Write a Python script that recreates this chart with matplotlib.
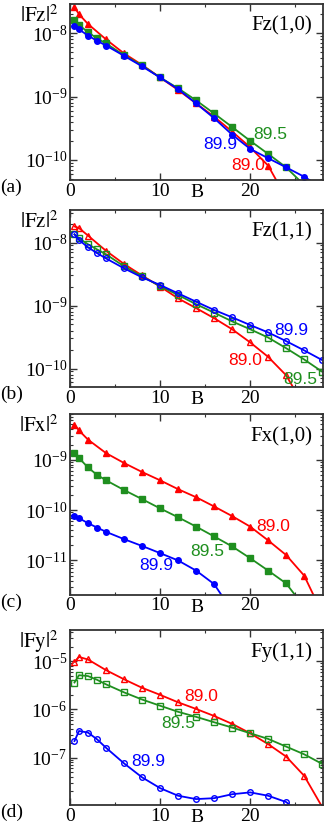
import matplotlib
matplotlib.use("Agg")
import matplotlib.pyplot as plt
import matplotlib.ticker as ticker

plt.rcParams["font.family"] = "serif"
plt.rcParams["font.serif"] = ["Liberation Serif", "DejaVu Serif"]
plt.rcParams["mathtext.fontset"] = "stix"

RED = "#ff0000"
GREEN = "#1f8f1f"
BLUE = "#0000ff"

# B values
B_red = [0.5, 1, 2, 4, 6, 8, 10, 12, 14, 16, 18, 20, 22, 24, 26, 28]
B_all = [0.5, 1, 2, 3, 4, 6, 8, 10, 12, 14, 16, 18, 20, 22, 24, 26, 28]

# (a) Fz(1,0)
a_890 = [2.57e-8, 2.0e-8, 1.4e-8, 8.0e-9, 4.8e-9, 3.16e-9, 2.0e-9, 1.27e-9,
         7.8e-10, 4.8e-10, 2.8e-10, 1.58e-10, 8.1e-11, 2.5e-11]
a_895 = [1.63e-8, 1.35e-8, 1.04e-8, 8.3e-9, 6.9e-9, 4.5e-9, 3.1e-9, 2.0e-9,
         1.35e-9, 8.7e-10, 5.4e-10, 3.3e-10, 2.0e-10, 1.24e-10, 7.6e-11, 4.0e-11]
a_899 = [1.32e-8, 1.15e-8, 9.2e-9, 7.6e-9, 6.4e-9, 4.4e-9, 3.0e-9, 2.0e-9,
         1.31e-9, 7.8e-10, 4.55e-10, 2.5e-10, 1.49e-10, 1.06e-10, 7.6e-11, 5.4e-11, 3.6e-11]

# (b) Fz(1,1)
b_890 = [1.8e-8, 1.7e-8, 1.29e-8, 7.4e-9, 4.57e-9, 3.0e-9, 2.0e-9, 1.3e-9,
         9.1e-10, 6.3e-10, 4.2e-10, 2.6e-10, 1.53e-10, 7.8e-11, 2.5e-11]
b_895 = [1.35e-8, 1.17e-8, 9.4e-9, 7.8e-9, 6.5e-9, 4.2e-9, 2.9e-9, 2.04e-9,
         1.47e-9, 1.05e-9, 7.7e-10, 5.6e-10, 4.2e-10, 3.1e-10, 2.1e-10, 1.39e-10, 8.9e-11]
b_899 = [1.35e-8, 1.1e-8, 8.4e-9, 6.8e-9, 5.6e-9, 3.9e-9, 2.8e-9, 2.12e-9,
         1.56e-9, 1.15e-9, 8.5e-10, 6.5e-10, 4.9e-10, 3.74e-10, 2.72e-10, 1.94e-10, 1.36e-10]

# (c) Fx(1,0)
c_890 = [4.95e-9, 3.8e-9, 2.5e-9, 1.35e-9, 8.6e-10, 5.7e-10, 3.9e-10, 2.6e-10,
         1.8e-10, 1.18e-10, 7.6e-11, 4.7e-11, 2.5e-11, 1.28e-11, 5.0e-12, 9.0e-13]
c_895 = [1.35e-9, 1.08e-9, 7.0e-10, 5.0e-10, 3.9e-10, 2.5e-10, 1.65e-10, 1.08e-10,
         7.2e-11, 4.7e-11, 3.0e-11, 1.9e-11, 1.11e-11, 6.3e-12, 3.5e-12, 1.2e-12]
c_899 = [7.7e-11, 6.9e-11, 5.5e-11, 4.5e-11, 3.7e-11, 2.65e-11, 1.94e-11, 1.4e-11,
         1.0e-11, 6.3e-12, 3.4e-12, 1.0e-12]

# (d) Fy(1,1)
d_890 = [9.7e-6, 1.22e-5, 1.08e-5, 6.5e-6, 4.2e-6, 2.8e-6, 2.0e-6, 1.4e-6,
         1.02e-6, 7.3e-7, 5.0e-7, 3.2e-7, 1.9e-7, 1.05e-7, 4.2e-8, 9.5e-9]
d_895 = [3.6e-6, 5.1e-6, 4.9e-6, 4.1e-6, 3.3e-6, 2.25e-6, 1.6e-6, 1.19e-6,
         8.9e-7, 7.0e-7, 5.4e-7, 4.2e-7, 3.2e-7, 2.44e-7, 1.69e-7, 1.17e-7, 7.4e-8]
d_899 = [2.2e-7, 3.56e-7, 3.3e-7, 2.4e-7, 1.6e-7, 7.6e-8, 3.9e-8, 2.33e-8,
         1.62e-8, 1.38e-8, 1.44e-8, 1.74e-8, 1.9e-8, 1.62e-8, 1.2e-8, 6.0e-9]

panels = [
    dict(label="(a)", title="Fz(1,0)", ylab=r"$|\mathrm{Fz}|^2$", filled=True,
         ylim=(10 ** -10.32, 10 ** -7.54), box=(0.214, 0.782, 0.774, 0.213),
         red=a_890, green=a_895, blue=a_899,
         txt=[("89.9", 16.7, 10 ** -9.76, BLUE), ("89.5", 22.2, 10 ** -9.6, GREEN),
              ("89.0", 19.8, 10 ** -10.09, RED)]),
    dict(label="(b)", title="Fz(1,1)", ylab=r"$|\mathrm{Fz}|^2$", filled=False,
         ylim=(10 ** -10.3, 10 ** -7.48), box=(0.214, 0.531, 0.774, 0.215),
         red=b_890, green=b_895, blue=b_899,
         txt=[("89.9", 24.6, 10 ** -9.4, BLUE), ("89.0", 19.4, 10 ** -9.88, RED),
              ("89.5", 25.6, 10 ** -10.17, GREEN)]),
    dict(label="(c)", title="Fx(1,0)", ylab=r"$|\mathrm{Fx}|^2$", filled=True,
         ylim=(10 ** -11.68, 10 ** -8.09), box=(0.214, 0.280, 0.774, 0.219),
         red=c_890, green=c_895, blue=c_899,
         txt=[("89.0", 22.6, 10 ** -10.33, RED), ("89.5", 15.2, 10 ** -10.83, GREEN),
              ("89.9", 9.6, 10 ** -11.11, BLUE)]),
    dict(label="(d)", title="Fy(1,1)", ylab=r"$|\mathrm{Fy}|^2$", filled=False,
         ylim=(10 ** -7.99, 10 ** -4.36), box=(0.214, 0.025, 0.774, 0.212),
         red=d_890, green=d_895, blue=d_899,
         txt=[("89.0", 14.6, 10 ** -5.74, RED), ("89.5", 12.0, 10 ** -6.29, GREEN),
              ("89.9", 8.7, 10 ** -7.08, BLUE)]),
]

fig = plt.figure(figsize=(3.27, 8.26), dpi=100)

for p in panels:
    ax = fig.add_axes(p["box"])
    series = [(B_red, p["red"], RED, "^"), (B_all, p["green"], GREEN, "s"),
              (B_all, p["blue"], BLUE, "o")]
    for xs, ys, col, mk in series:
        ax.plot(xs[:len(ys)], ys, color=col, lw=1.3, marker=mk, ms=4,
                mfc=col if p["filled"] else "none", mec=col, mew=1.0)
    ax.set_yscale("log")
    ax.set_xlim(0, 28.1)
    ax.set_ylim(*p["ylim"])
    ax.xaxis.set_major_locator(ticker.MultipleLocator(10))
    ax.xaxis.set_minor_locator(ticker.MultipleLocator(5))
    ax.yaxis.set_major_locator(ticker.LogLocator(base=10, numticks=10))
    ax.yaxis.set_minor_locator(ticker.LogLocator(base=10, subs=range(2, 10), numticks=10))
    ax.yaxis.set_minor_formatter(ticker.NullFormatter())
    ax.tick_params(which="both", direction="in", top=True, right=True,
                   labelsize=14, color="#333333", pad=2)
    ax.tick_params(which="major", length=5, width=1.0)
    ax.tick_params(which="minor", length=2.5, width=0.8)
    for s in ax.spines.values():
        s.set_linewidth(1.3)
        s.set_color("#333333")
    for t, x, y, col in p["txt"]:
        ax.text(x, y, t, color=col, fontsize=12.5, ha="center", va="center",
                family="Liberation Sans")
    ax.text(0.957, 0.875, p["title"], transform=ax.transAxes, ha="right",
            va="center", fontsize=15)
    ax.text(-0.045, 0.9, p["ylab"], transform=ax.transAxes, ha="right",
            va="baseline", fontsize=15)
    ax.text(-0.275, -0.065, p["label"], transform=ax.transAxes, ha="left",
            va="baseline", fontsize=14)
    ax.text(0.5, -0.07, "B", transform=ax.transAxes, ha="center",
            va="center", fontsize=14)

fig.savefig("out.png", dpi=100)
